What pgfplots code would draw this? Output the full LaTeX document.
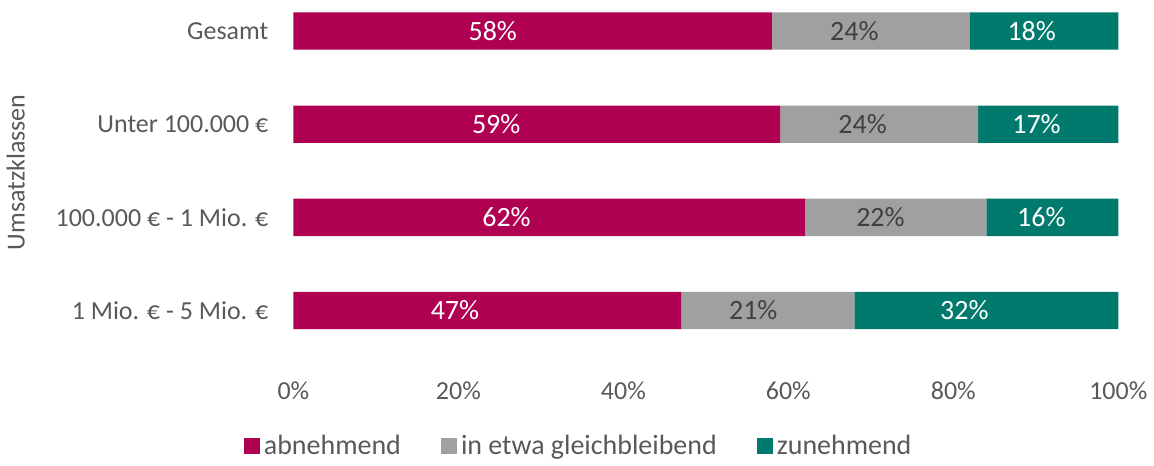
\documentclass[border=0pt]{standalone}
\usepackage{fontspec}
\setmainfont{Carlito}
\usepackage{pgfplots}
\usepackage{pgfplotstable}
\pgfplotsset{compat=1.18}
\definecolor{cmag}{RGB}{175,0,82}
\definecolor{cgray}{RGB}{160,160,160}
\definecolor{cteal}{RGB}{0,122,108}
\definecolor{ctext}{RGB}{89,89,89}
\definecolor{cdark}{RGB}{64,64,64}

\pgfplotstableread{
pos ab gl zu
0 47 21 32
1 62 22 16
2 59 24 17
3 58 24 18
}\umsatz

\begin{document}
\begin{tikzpicture}
\begin{axis}[
    scale only axis,
    width=411.5bp, height=187bp,
    xbar stacked, bar width=0.4,
    xmin=0, xmax=100, ymin=-0.69, ymax=3.333,
    axis line style={draw=none},
    tick style={draw=none},
    /pgf/number format/assume math mode=true,
    font=\fontsize{13}{16}\selectfont,
    xtick={0,20,...,100},
    xticklabel={\pgfmathprintnumber{\tick}\%},
    xticklabel style={text=ctext},
    ytick={0,1,2,3},
    yticklabels={1 Mio. € - 5 Mio. €, 100.000 € - 1 Mio. €, Unter 100.000 €, Gesamt},
    yticklabel style={text=ctext, xshift=-9bp},
    ylabel={Umsatzklassen},
    ylabel style={text=ctext, at={(rel axis cs:0,0.54)}, anchor=center, yshift=138.5bp},
    point meta=explicit,
    nodes near coords={\pgfmathprintnumber{\pgfplotspointmeta}\%},
    nodes near coords style={font=\fontsize{14}{16}\selectfont},
    legend style={at={(0.347,-0.19)}, anchor=center, draw=none, fill=none,
        legend columns=3, text=ctext, font=\fontsize{14}{16}\selectfont,
        /tikz/every even column/.append style={column sep=18bp},
        legend cell align=left},
    legend image code/.code={\fill[#1] (0bp,-4bp) rectangle (8bp,4bp);},
]
\addplot[fill=cmag, draw=none,
    visualization depends on={\thisrow{ab} \as \rawx},
    every node near coord/.append style={text=white, anchor=center, xshift={-\rawx*0.342917bp}}]
    table[x=ab, y=pos, meta=ab] {\umsatz};
\addlegendentry{abnehmend}
\addplot[fill=cgray, draw=none,
    visualization depends on={\thisrow{gl} \as \rawx},
    every node near coord/.append style={text=cdark, anchor=center, xshift={-\rawx*0.342917bp}}]
    table[x=gl, y=pos, meta=gl] {\umsatz};
\addlegendentry{in etwa gleichbleibend}
\addplot[fill=cteal, draw=none,
    visualization depends on={\thisrow{zu} \as \rawx},
    every node near coord/.append style={text=white, anchor=center, xshift={-\rawx*0.342917bp}}]
    table[x=zu, y=pos, meta=zu] {\umsatz};
\addlegendentry{zunehmend}
\end{axis}
\end{tikzpicture}
\end{document}
